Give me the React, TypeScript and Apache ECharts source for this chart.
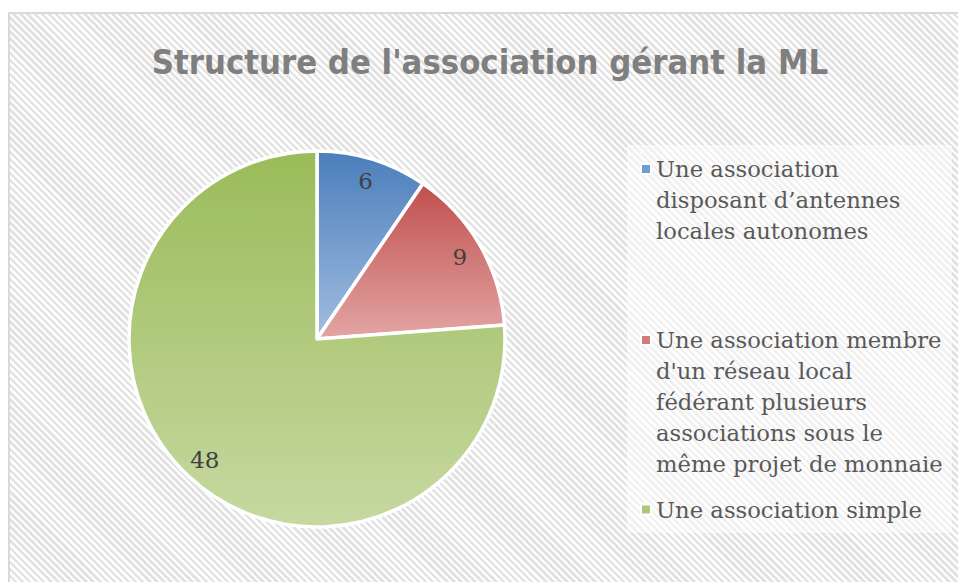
import React, { useEffect, useRef } from "react";
import * as echarts from "echarts";

const titleText = "Structure de l'association gérant la ML";
const categories = [
  "Une association disposant d’antennes locales autonomes",
  "Une association membre d'un réseau local fédérant plusieurs associations sous le même projet de monnaie",
  "Une association simple",
];
const legendLines = [
  ["Une association", "disposant d’antennes", "locales autonomes"],
  ["Une association membre", "d'un réseau local", "fédérant plusieurs", "associations sous le", "même projet de monnaie"],
  ["Une association simple"],
];
const values = [6, 9, 48];

const gradTop = ["#4a7ebb", "#c0504d", "#9bbb59"];
const gradBottom = ["#a2bde0", "#e2a5a4", "#c6d9a1"];
const iconColors = ["#729bd0", "#d47a78", "#aec67e"];

const LINE_H = 31;
const legendTops = [152.5, 323.5, 493];
const serifFont = "'DejaVu Serif', 'Liberation Serif', serif";

function iconPath(n: number) {
  const h = n * LINE_H;
  const c = LINE_H / 2;
  return `path://M0,0h0.01v0.01h-0.01zM0,${c - 5}h10v10h-10zM0,${h - 0.01}h0.01v0.01h-0.01z`;
}

export default function App() {
  const ref = useRef<HTMLDivElement>(null);
  useEffect(() => {
    if (!ref.current) return;
    const chart = echarts.init(ref.current, undefined, { renderer: "svg" });
    const data = categories.map((name, i) => ({
      name,
      value: values[i],
      itemStyle: {
        color: new echarts.graphic.LinearGradient(0, 0, 0, 1, [
          { offset: 0, color: gradTop[i] },
          { offset: 1, color: gradBottom[i] },
        ]),
      },
    }));
    const labelData = categories.map((name, i) => ({ name, value: values[i] }));
    chart.setOption({
      animation: false,
      title: {
        text: titleText,
        left: 485,
        top: 40,
        textAlign: "center",
        textStyle: {
          fontFamily: "'DejaVu Sans Condensed', 'Liberation Sans Narrow', sans-serif",
          fontWeight: "bold",
          fontSize: 34.3,
          color: "#7f7f7f",
        },
      },
      graphic: [
        {
          type: "rect",
          shape: { x: 627, y: 145, width: 325, height: 388 },
          style: { fill: "rgba(255,255,255,0.5)" },
          z: -1,
          silent: true,
        },
      ],
      legend: categories.map((name, i) => ({
        data: [{ name, icon: iconPath(legendLines[i].length), itemStyle: { color: iconColors[i] } }],
        left: 640,
        top: legendTops[i],
        orient: "vertical",
        padding: 0,
        itemWidth: 10,
        itemHeight: legendLines[i].length * LINE_H,
        selectedMode: false,
        formatter: () => legendLines[i].join("\n"),
        textStyle: {
          fontFamily: serifFont,
          fontSize: 22.7,
          lineHeight: LINE_H,
          color: "#595959",
        },
      })),
      series: [
        {
          type: "pie",
          center: [317, 339],
          radius: 188,
          startAngle: 90,
          clockwise: true,
          label: { show: false },
          labelLine: { show: false },
          itemStyle: { borderColor: "#ffffff", borderWidth: 3.5 },
          emphasis: { disabled: true },
          data,
        },
        {
          type: "pie",
          center: [317, 339],
          radius: [136, 188],
          startAngle: 90,
          clockwise: true,
          silent: true,
          itemStyle: { color: "rgba(0,0,0,0)", borderWidth: 0 },
          label: {
            show: true,
            position: "inside",
            formatter: "{c}",
            fontFamily: serifFont,
            fontSize: 23,
            color: "#404040",
          },
          labelLine: { show: false },
          emphasis: { disabled: true },
          data: labelData,
        },
      ],
    });
    return () => chart.dispose();
  }, []);
  return (
    <div style={{ position: "fixed", left: 0, top: 0, width: 958, height: 582, overflow: "hidden", background: "#fff" }}>
      <div
        style={{
          position: "absolute",
          left: 8,
          top: 12,
          width: 960,
          height: 580,
          boxSizing: "border-box",
          borderLeft: "2px solid #d9d9d9",
          borderTop: "2px solid #d9d9d9",
          backgroundColor: "#fdfdfd",
          backgroundImage: "repeating-linear-gradient(45deg, #e2e2e2 0px, #e2e2e2 2.5px, #fdfdfd 2.5px, #fdfdfd 5px)",
        }}
      />
      <div ref={ref} style={{ position: "absolute", left: 0, top: 0, width: 958, height: 582 }} />
    </div>
  );
}
